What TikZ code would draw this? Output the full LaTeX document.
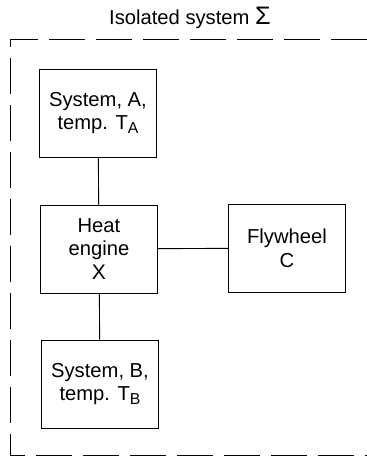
\documentclass[tikz,border=0pt]{standalone}
\usepackage{fontspec}
\setmainfont{Liberation Sans}
\tikzset{
  sysbox/.style={draw, line width=0.5pt, minimum width=2.34cm, minimum height=1.76cm,
    align=center, inner sep=2pt, font=\fontsize{11.5}{13.5}\selectfont},
  link/.style={line width=0.5pt},
  boundary/.style={line width=0.4pt, dash pattern=on 0.72cm off 0.22cm}
}
\newcommand{\subtmp}[1]{\raisebox{-0.35ex}{\fontsize{9}{9}\selectfont #1}}
\begin{document}
\begin{tikzpicture}[x=0.02cm, y=-0.02cm]
        \useasboundingbox (0,0) rectangle (367,457);

        % Hranice izolovaneho systemu
        \node[font=\fontsize{11.5}{13.5}\selectfont] (title) at (190,18) {Isolated system {\Large Σ}};
        \coordinate (topR) at (367,39);
        \coordinate (topL) at (10,39);
        \coordinate (botL) at (10,455);
        \coordinate (botR) at (367,455);
        \draw[boundary] (topR) -- (topL) -- (botL) -- (botR);

        % Bloky
        \node[sysbox] (sysA) at (98,113) {System, A,\\temp. T\subtmp{A}};
        \node[sysbox] (engX) at (99,249) {Heat\\engine\\{\large X}};
        \node[sysbox] (flyC) at (287,248) {Flywheel\\C};
        \node[sysbox] (sysB) at (100,384) {System, B,\\temp. T\subtmp{B}};

        % Spojnice
        \draw[link] (sysA) -- (engX);
        \draw[link] (engX) -- (sysB);
        \draw[link] (engX) -- (flyC);
    \end{tikzpicture}
\end{document}
